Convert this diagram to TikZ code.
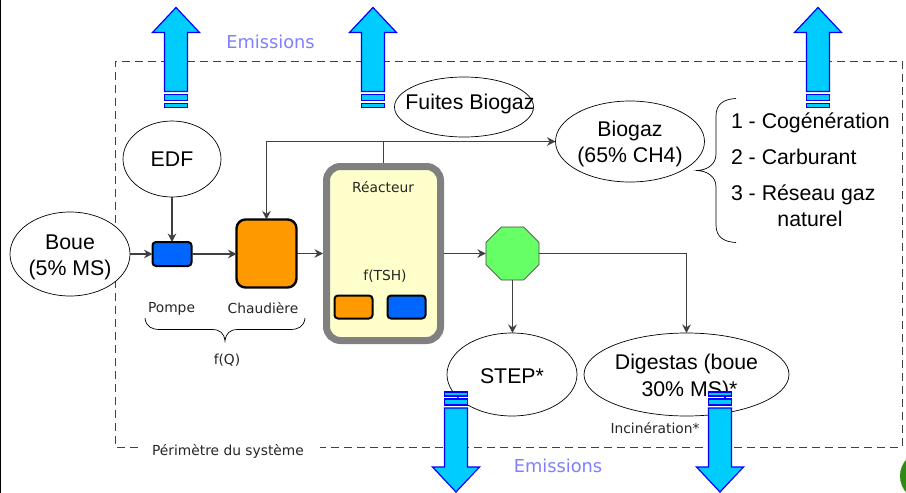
\documentclass[tikz,border=0pt]{standalone}
\usepackage{fontspec}
\setmainfont{Liberation Sans}
\newfontfamily\tah{DejaVu Sans}
\usetikzlibrary{shapes.geometric,arrows.meta}
\definecolor{linegray}{HTML}{404040}
\definecolor{emis}{HTML}{8080FF}
\definecolor{sky}{HTML}{00CCFF}
\definecolor{pumpblue}{HTML}{0066FF}
\definecolor{boiler}{HTML}{FF9900}
\definecolor{reactfill}{HTML}{FFFFCC}
\definecolor{octa}{HTML}{66FF66}
\definecolor{leaf}{HTML}{2E8B10}
\tikzset{
  every node/.style={outer sep=0pt,inner sep=0pt},
  oval/.style={ellipse,draw=black,line width=0.7pt,fill=white,align=center,font=\fontsize{21.3}{26}\selectfont},
  conn/.style={draw=linegray,line width=1.6pt,-{Stealth[length=8.5pt,width=8.5pt]}},
  wire/.style={draw=linegray,line width=1.6pt},
  box/.style={rectangle,rounded corners=3.5pt,draw=black,line width=2pt},
  small/.style={font=\tah\fontsize{13.8}{16}\selectfont,text=black!85},
  big/.style={font=\fontsize{21.3}{24}\selectfont},
  emistext/.style={font=\tah\fontsize{17.8}{20}\selectfont,text=emis},
  arrowbody/.style={draw=blue,fill=sky,line width=1.2pt},
  perim/.style={draw=linegray,line width=1pt,dash pattern=on 8pt off 5pt},
  bracep/.style={draw=black,line width=0.7pt},
}
\newcommand{\emisarrow}[3]{%
  \begin{scope}[shift={(#1,#2)},yscale=#3]
    \path[arrowbody] (0,0) -- (23.5,25) -- (11.5,25) -- (11.5,84) -- (-11.5,84) -- (-11.5,25) -- (-23.5,25) -- cycle;
    \path[arrowbody] (-11.5,87) rectangle (11.5,93);
    \path[arrowbody] (-11.5,96) rectangle (11.5,100);
  \end{scope}}
\newcommand{\lowerfirst}{\rule{0pt}{21pt}}
\begin{document}
\begin{tikzpicture}[x=1pt,y=-1pt]
\useasboundingbox (0,0) rectangle (906,493);
\fill[white] (0,0) rectangle (906,493);
\fill[black] (0,0) rectangle (1.2,493);
\begin{scope}
  \clip (0,0) rectangle (906,493);
  \fill[leaf] (925,476) circle (25);
\end{scope}
% system perimeter
\draw[perim] (138,447) -- (115,447) -- (115,61) -- (902,61) -- (902,447) -- (320,447);
% ellipses
\node[oval,minimum width=120pt,minimum height=84pt] (boue) at (70,254) {\lowerfirst Boue\\(5\% MS)};
\node[oval,minimum width=98pt,minimum height=76pt] (edf) at (172,159) {EDF};
\node[oval,minimum width=139pt,minimum height=60pt] (fuites) at (464,107) {};
\node[big] (fuitest) at (470,104) {Fuites Biogaz};
\node[oval,minimum width=136pt,minimum height=81pt] (biogaz) at (630,141.5) {\lowerfirst Biogaz\\(65\% CH4)};
\node[oval,minimum width=130pt,minimum height=83pt] (step) at (512,374.5) {\rule{0pt}{18pt}STEP*};
\node[oval,minimum width=205pt,minimum height=83pt] (digestas) at (686.5,374.5) {\lowerfirst Digestas (boue\\[0.5pt]\hspace*{6pt}30\% MS)*};
% boxes
\node[box,fill=pumpblue,minimum width=39pt,minimum height=24pt] (pompe) at (172,254) {};
\node[box,fill=boiler,rounded corners=9pt,line width=2.4pt,minimum width=60pt,minimum height=68pt] (chaud) at (266.5,253.5) {};
\node[rectangle,rounded corners=14pt,draw=gray,line width=7pt,fill=reactfill,minimum width=114pt,minimum height=174pt,outer sep=3.5pt] (reacteur) at (383.5,253.5) {};
\node[box,fill=boiler,minimum width=38pt,minimum height=23pt] (rorange) at (353.5,307) {};
\node[box,fill=pumpblue,minimum width=38pt,minimum height=23pt] (rblue) at (406.5,307) {};
\node[regular polygon,regular polygon sides=8,draw=black!70,line width=0.7pt,fill=octa,minimum size=57.5pt] (vanne) at (512.5,253.5) {};
% connectors
\coordinate (jonction) at (reacteur.north|-biogaz.west);
\draw[conn] (boue.east) -- (pompe.west|-boue.east);
\draw[conn] (edf.south) -- (pompe.north);
\draw[conn] (pompe.east) -- (chaud.west|-pompe.east);
\draw[conn] (chaud.east) -- (reacteur.west|-chaud.east);
\draw[wire] (reacteur.north) -- (jonction);
\draw[conn] (jonction) -- (biogaz.west);
\draw[conn] (jonction) -| (chaud.north);
\draw[conn] (reacteur.east|-vanne.west) -- (vanne.west);
\draw[conn] (vanne.south) -- (vanne.south|-step.north);
\draw[conn] (vanne.east) -| (digestas.north);
% labels
\node[small] (lreact) at (383,187) {Réacteur};
\node[small] (ltsh) at (385,276) {f(TSH)};
\node[small] (lpompe) at (171.5,309) {Pompe};
\node[small] (lchaud) at (263,308) {Chaudière};
\node[small] (lfq) at (227,360) {f(Q)};
\node[small] (lperim) at (228,451) {Périmètre du système};
\node[small] (linci) at (655,428) {Incinération*};
\node[emistext] (em1) at (270.5,42) {Emissions};
\node[emistext] (em2) at (558,466) {Emissions};
\node[big,anchor=base west] (l1) at (731,128) {1 - Cogénération};
\node[big,anchor=base west] (l2) at (731,164) {2 - Carburant};
\node[big,anchor=base west] (l3) at (731,200) {3 - Réseau gaz};
\node[big,anchor=base] (l4) at (810,226.5) {naturel};
% braces
\draw[bracep] (145,318) .. controls (146,327) and (152,329.5) .. (160,329.5) -- (212,329.5) .. controls (220,329.5) and (224,333) .. (225,341) .. controls (226,333) and (230,329.5) .. (238,329.5) -- (290,329.5) .. controls (298,329.5) and (304,327) .. (305,318);
\draw[bracep] (736,98.5) .. controls (724,99) and (716,104) .. (716,116) -- (716,154) .. controls (716,164) and (708,170) .. (697,170.5) .. controls (708,171) and (716,177) .. (716,187) -- (716,225) .. controls (716,237) and (724,242) .. (736,242.5);
% emission arrows
\emisarrow{176}{7.5}{1}
\emisarrow{373}{7.5}{1}
\emisarrow{818}{7.5}{1}
\emisarrow{456}{492}{-1}
\emisarrow{720}{492}{-1}
\end{tikzpicture}
\end{document}
